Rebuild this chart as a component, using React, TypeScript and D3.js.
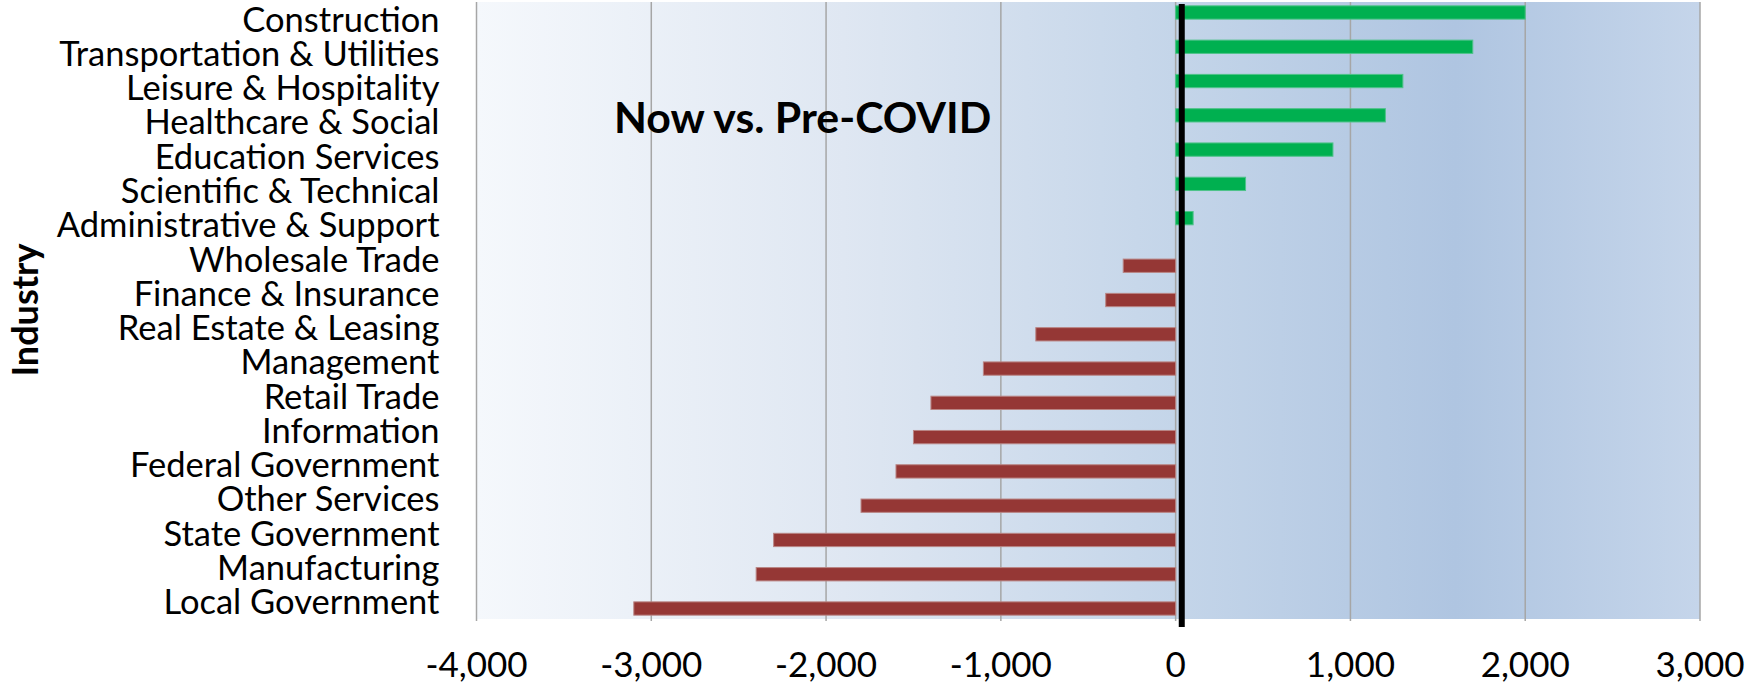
import React from "react";
import * as d3 from "d3";

const categories = [
  "Construction",
  "Transportation & Utilities",
  "Leisure & Hospitality",
  "Healthcare & Social",
  "Education Services",
  "Scientific & Technical",
  "Administrative & Support",
  "Wholesale Trade",
  "Finance & Insurance",
  "Real Estate & Leasing",
  "Management",
  "Retail Trade",
  "Information",
  "Federal Government",
  "Other Services",
  "State Government",
  "Manufacturing",
  "Local Government",
];

const changeValues = [
  2000, 1700, 1300, 1200, 900, 400, 100,
  -300, -400, -800, -1100, -1400, -1500, -1600, -1800, -2300, -2400, -3100,
];

const xTicks = [-4000, -3000, -2000, -1000, 0, 1000, 2000, 3000];
const xDomain = [-4000, 3000];
const referenceLineValue = 35;
const seriesKeys = ["gain", "loss"];
const chartTitle = "Now vs. Pre-COVID";
const axisTitle = "Industry";

const W = 1758;
const H = 685;
const M = { left: 476.5, right: 58, top: 2, bottom: 66 };
const FONT = "Lato, 'Open Sans', sans-serif";

export default function App() {
  const x = d3.scaleLinear().domain(xDomain).range([M.left, W - M.right]);
  const y = d3
    .scaleBand<string>()
    .domain(categories)
    .range([M.top, H - M.bottom])
    .paddingInner(0)
    .paddingOuter(0);
  const sub = d3
    .scaleBand<string>()
    .domain(seriesKeys)
    .range([0, y.bandwidth()])
    .paddingInner(0)
    .paddingOuter(0.288);

  const fmt = (v: number) => d3.format(",")(v).replace("\u2212", "-");
  const plotTop = M.top;
  const plotBottom = H - M.bottom;

  const rows = categories.map((c, i) => {
    const v = changeValues[i];
    return { c, v, key: v >= 0 ? "gain" : "loss" };
  });

  return (
    <svg
      width={W}
      height={H}
      style={{ position: "absolute", left: 0, top: 0, background: "#fff" }}
      fontFamily={FONT}
    >
      <defs>
        <linearGradient id="plotBg" x1="0" x2="1" y1="0" y2="0">
          <stop offset="0%" stopColor="#f5f8fc" />
          <stop offset="30%" stopColor="#dfe7f2" />
          <stop offset="57%" stopColor="#c4d5e9" />
          <stop offset="80%" stopColor="#afc5e1" />
          <stop offset="100%" stopColor="#c5d5ea" />
        </linearGradient>
      </defs>

      <rect
        x={x(xDomain[0])}
        y={plotTop}
        width={x(xDomain[1]) - x(xDomain[0])}
        height={plotBottom - plotTop}
        fill="url(#plotBg)"
      />

      {xTicks.map((t) => (
        <line
          key={"g" + t}
          x1={x(t)}
          x2={x(t)}
          y1={plotTop}
          y2={plotBottom + 2}
          stroke="#a6a6a6"
          strokeWidth={1.5}
        />
      ))}

      {rows.map((r) => {
        const x0 = x(Math.min(0, r.v));
        const x1 = x(Math.max(0, r.v));
        const isGain = r.key === "gain";
        return (
          <rect
            key={r.c}
            x={x0}
            y={(y(r.c) as number) + (sub(r.key) as number)}
            width={x1 - x0}
            height={sub.bandwidth()}
            fill={isGain ? "#00b050" : "#953735"}
            stroke={isGain ? "#4fc38a" : "#b98584"}
            strokeWidth={1}
          />
        );
      })}

      <line
        x1={x(referenceLineValue)}
        x2={x(referenceLineValue)}
        y1={plotTop + 2}
        y2={plotBottom + 8}
        stroke="#000"
        strokeWidth={6}
      />

      {categories.map((c) => (
        <text
          key={"l" + c}
          x={439.5}
          y={(y(c) as number) + y.bandwidth() / 2}
          dy="0.36em"
          textAnchor="end"
          fontSize={34.5}
          fill="#000"
        >
          {c}
        </text>
      ))}

      {xTicks.map((t) => (
        <text
          key={"t" + t}
          x={x(t)}
          y={677}
          textAnchor="middle"
          fontSize={35}
          fill="#000"
        >
          {fmt(t)}
        </text>
      ))}

      <text
        transform={`translate(${38},${310}) rotate(-90)`}
        textAnchor="middle"
        fontSize={36}
        fontWeight="bold"
        fill="#000"
      >
        {axisTitle}
      </text>

      <text x={614} y={133} fontSize={42.8} fontWeight="bold" fill="#000">
        {chartTitle}
      </text>
    </svg>
  );
}
